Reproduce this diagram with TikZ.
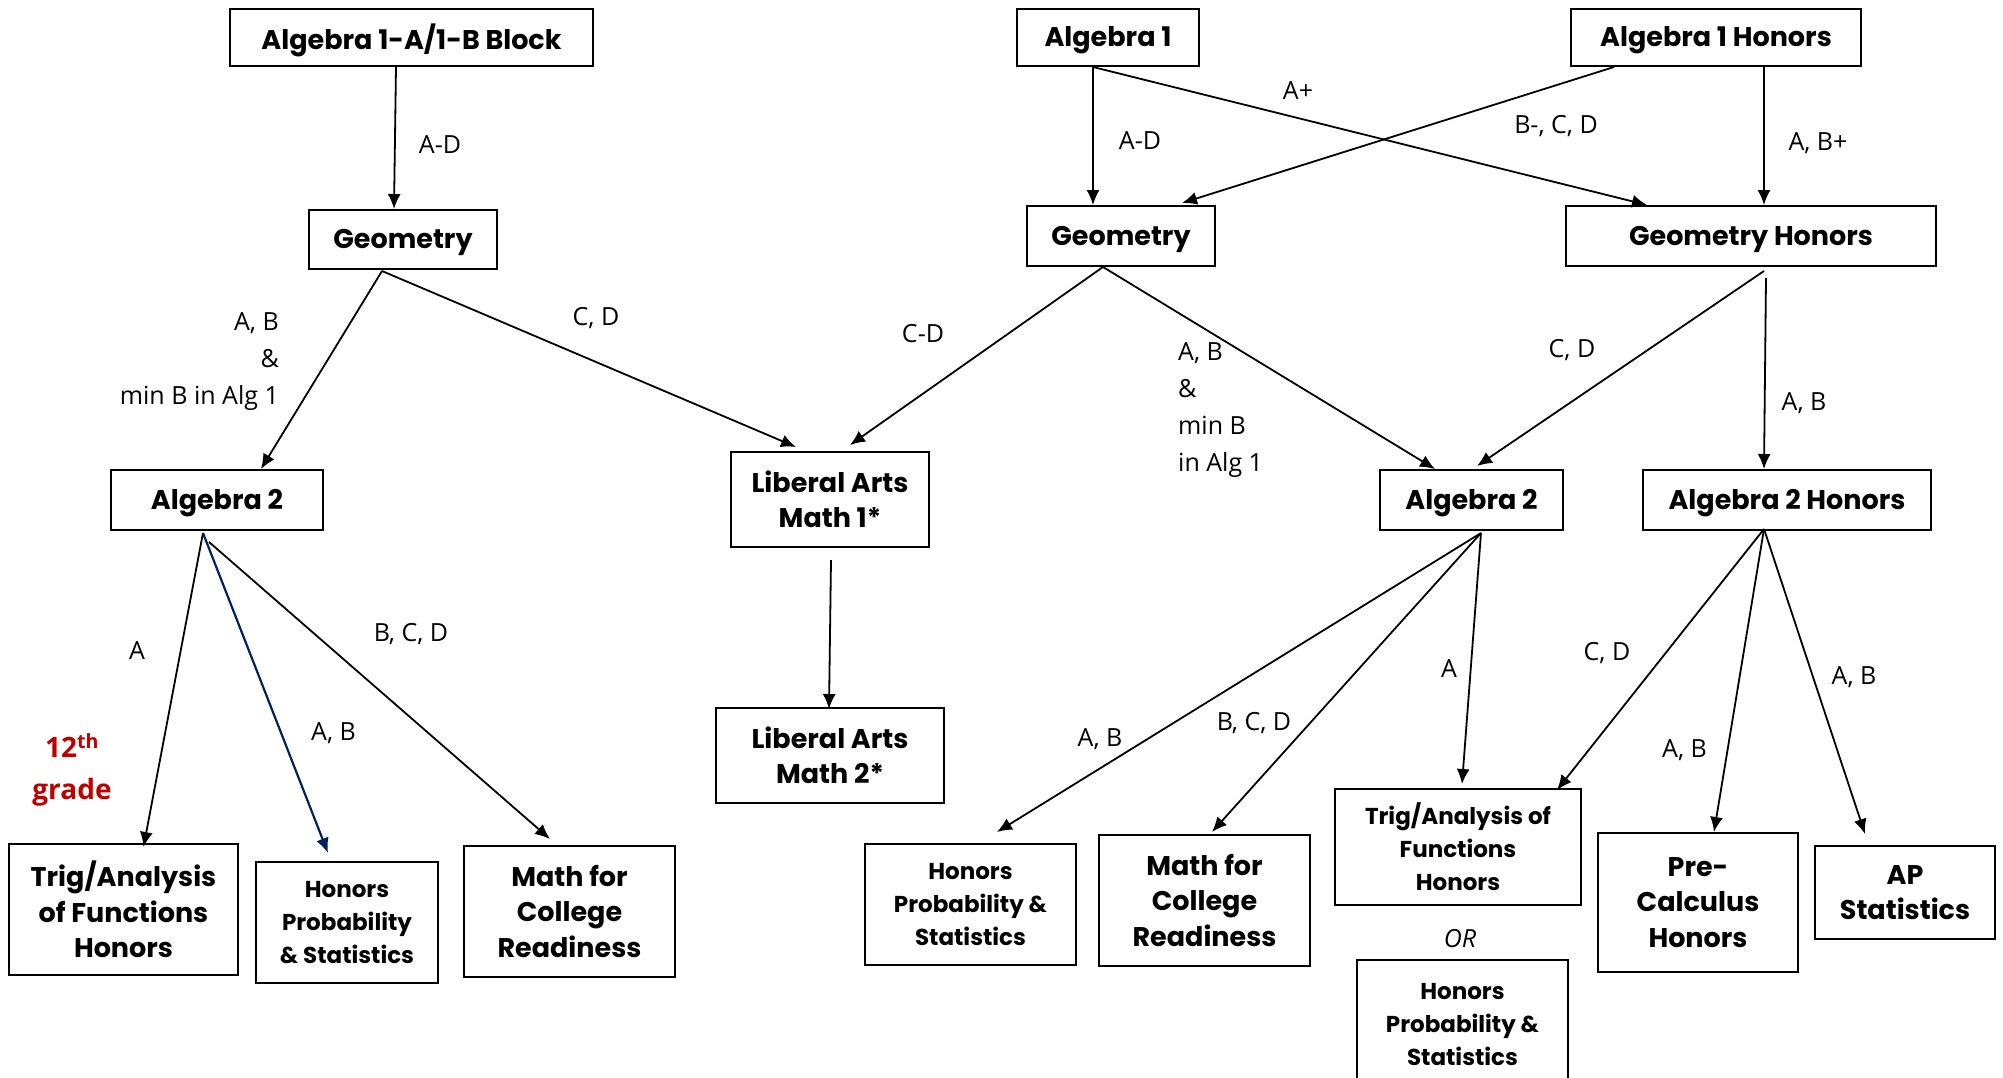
\documentclass[tikz,border=0pt]{standalone}
\usepackage{fontspec}
\setmainfont{Open Sans}
\newfontfamily\boxfont{Poppins}
\usetikzlibrary{arrows.meta,calc}
\definecolor{gradered}{RGB}{192,0,0}
\definecolor{navyline}{RGB}{0,32,96}

\begin{document}
\begin{tikzpicture}[x=1pt, y=-1pt,
    course/.style={draw, line width=2pt, align=center, inner sep=0pt,
        font=\boxfont\bfseries\fontsize{27}{35.5}\selectfont},
    oneline/.style={course, text depth=1pt},
    smallcourse/.style={course, font=\boxfont\bfseries\fontsize{23}{33}\selectfont},
    cond/.style={font=\fontsize{25}{37}\selectfont, inner sep=0pt},
    link/.style={-{Latex[length=15pt,width=13pt]}, line width=1.8pt},
]
    \useasboundingbox (0,0) rectangle (2003,1077);

    % first year
    \node[oneline, minimum width=363pt, minimum height=57pt] (alg1ab) at (411.5,37.5) {Algebra 1-A/1-B Block};
    \node[oneline, minimum width=182pt, minimum height=57pt] (alg1) at (1108,37.5) {Algebra 1};
    \node[oneline, minimum width=290pt, minimum height=57pt] (alg1h) at (1716,37.5) {Algebra 1 Honors};

    % second year
    \node[oneline, minimum width=188pt, minimum height=59pt] (geoa) at (403,239.5) {Geometry};
    \node[oneline, minimum width=188pt, minimum height=60pt] (geob) at (1121,236) {Geometry};
    \node[oneline, minimum width=370pt, minimum height=60pt] (geoh) at (1751,236) {Geometry Honors};

    % third year
    \node[oneline, minimum width=212pt, minimum height=60pt] (alg2a) at (217,500) {Algebra 2};
    \node[course, minimum width=198pt, minimum height=95pt] (lam1) at (830,499.5) {Liberal Arts\\Math 1*};
    \node[oneline, minimum width=183pt, minimum height=60pt] (alg2b) at (1471.5,500) {Algebra 2};
    \node[oneline, minimum width=288pt, minimum height=60pt] (alg2h) at (1787,500) {Algebra 2 Honors};

    % fourth year
    \node[course, minimum width=228pt, minimum height=95pt] (lam2) at (830,755.5) {Liberal Arts\\Math 2*};
    \node[course, minimum width=229pt, minimum height=131pt] (triga) at (123.5,909.5) {Trig/Analysis\\of Functions\\Honors};
    \node[smallcourse, minimum width=182pt, minimum height=121pt] (hpsa) at (347,922.5) {Honors\\Probability\\\& Statistics};
    \node[course, minimum width=211pt, minimum height=131pt] (mcra) at (569.5,911.5) {Math for\\College\\Readiness};
    \node[smallcourse, minimum width=211pt, minimum height=121pt] (hpsb) at (970.5,904.5) {Honors\\Probability \&\\Statistics};
    \node[course, minimum width=211pt, minimum height=131pt] (mcrb) at (1204.5,900.5) {Math for\\College\\Readiness};
    \node[smallcourse, minimum width=246pt, minimum height=116pt] (trigb) at (1458,847) {Trig/Analysis of\\Functions\\Honors};
    \node[cond, font=\itshape\fontsize{25}{30}\selectfont] (orword) at (1460,939) {OR};
    \node[smallcourse, minimum width=211pt, minimum height=130pt] (hpsc) at (1462.5,1025) {Honors\\Probability \&\\Statistics};
    \node[course, minimum width=200pt, minimum height=139pt] (pch) at (1698,902.5) {Pre-\\Calculus\\Honors};
    \node[course, minimum width=180pt, minimum height=93pt] (aps) at (1905,892.5) {AP\\Statistics};

    \node[align=center, text=gradered, inner sep=0pt, font=\bfseries\fontsize{28}{42}\selectfont] (grade) at (72,770) {12\textsuperscript{th}\\grade};

    % connectors
    \draw[link] ($(alg1ab.south)+(-15.5,0)$) -- ($(geoa.north)+(-9,0)$);
    \draw[link] ($(alg1.south)+(-15,0)$) -- ($(geob.north)+(-28,0)$);
    \draw[link] ($(alg1.south)+(-15,0)$) -- ($(geoh.north)+(-104,0)$);
    \draw[link] ($(alg1h.south)+(-102,0)$) -- ($(geob.north)+(61,-2)$);
    \draw[link] ($(alg1h.south)+(48,0)$) -- ($(geoh.north)+(13,0)$);

    \draw[link] ($(geoa.south)+(-21,1)$) -- ($(alg2a.north)+(44,0)$);
    \draw[link] ($(geoa.south)+(-21,1)$) -- ($(lam1.north)+(-34,-4)$);
    \draw[link] ($(geob.south)+(-18,0)$) -- ($(lam1.north)+(20,-6)$);
    \draw[link] ($(geob.south)+(-18,0)$) -- ($(alg2b.north)+(-36.5,0)$);
    \draw[link] ($(geoh.south)+(13,4)$) -- ($(alg2b.north)+(5.5,-3)$);
    \draw[link] ($(geoh.south)+(15,11)$) -- ($(alg2h.north)+(-23,0)$);

    \draw[link] ($(alg2a.south)+(-14,2)$) -- ($(triga.north)+(20,4)$);
    \draw[link, line width=2.2pt, draw=navyline, fill=navyline] ($(alg2a.south)+(-14,2)$) -- ($(hpsa.north)+(-19,-8)$);
    \draw[link] ($(alg2a.south)+(-8,11)$) -- ($(mcra.north)+(-19.5,-6)$);
    \draw[link] ($(lam1.south)+(1,12)$) -- ($(lam2.north)+(-1,2)$);

    \draw[link] ($(alg2b.south)+(9.5,2)$) -- ($(hpsb.north)+(26.5,-11)$);
    \draw[link] ($(alg2b.south)+(9.5,2)$) -- ($(mcrb.north)+(7.5,-2)$);
    \draw[link] ($(alg2b.south)+(9.5,2)$) -- ($(trigb.north)+(4,-4)$);
    \draw[link] ($(alg2h.south)+(-23,-2)$) -- ($(trigb.north)+(99,2)$);
    \draw[link] ($(alg2h.south)+(-23,-2)$) -- ($(pch.north)+(16,0)$);
    \draw[link] ($(alg2h.south)+(-23,-2)$) -- ($(aps.north)+(-40,-11)$);

    % grade labels
    \node[cond] (ad1) at (440,145) {A-D};
    \node[cond, align=right, anchor=east] (abmin1) at (279,362) {A, B\\\&\\min B in Alg 1};
    \node[cond] (cd1) at (596,318) {C, D};
    \node[cond] (cd2) at (923,334) {C-D};
    \node[cond, align=left, anchor=west] (abmin2) at (1178,410) {A, B\\\&\\min B\\in Alg 1};
    \node[cond] (cd3) at (1572,350) {C, D};
    \node[cond] (ab1) at (1804,403) {A, B};
    \node[cond] (ad2) at (1140,141) {A-D};
    \node[cond] (aplus) at (1298,91) {A+};
    \node[cond] (bmcd) at (1556,126) {B-, C, D};
    \node[cond] (abplus) at (1818,143) {A, B+};
    \node[cond] (a1) at (137,651) {A};
    \node[cond] (ab2) at (333.5,733) {A, B};
    \node[cond] (bcd1) at (411,634) {B, C, D};
    \node[cond] (ab3) at (1100,739) {A, B};
    \node[cond] (bcd2) at (1254,723) {B, C, D};
    \node[cond] (a2) at (1449,669) {A};
    \node[cond] (cd4) at (1607,653) {C, D};
    \node[cond] (ab4) at (1684.5,750) {A, B};
    \node[cond] (ab5) at (1854,677) {A, B};
\end{tikzpicture}
\end{document}
